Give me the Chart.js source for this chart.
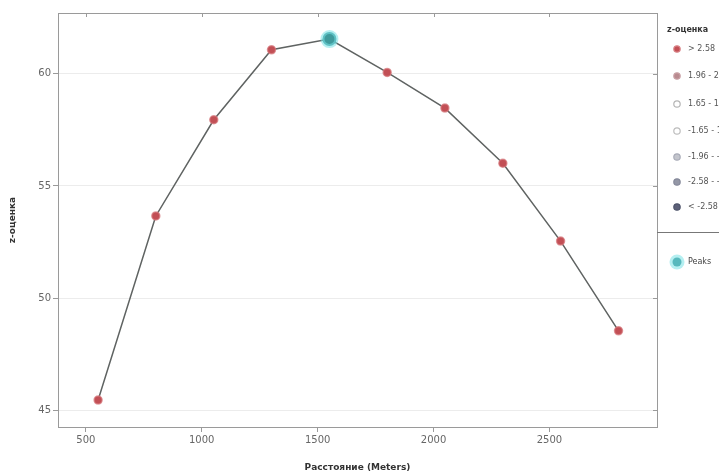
<!DOCTYPE html>
<html>
<head>
<meta charset="utf-8">
<script src="https://cdn.jsdelivr.net/npm/chart.js@4.4.1/dist/chart.umd.min.js"></script>
<style>
  html, body { margin: 0; padding: 0; background: #fff; overflow: hidden; }
  #wrap { width: 719px; height: 473px; position: relative; }
</style>
</head>
<body>
<div id="wrap"><canvas id="zChart"></canvas></div>
<script>
// values
const distances = [553, 802, 1052, 1301, 1551, 1800, 2049, 2299, 2548, 2798];
const zScores = [45.45, 53.66, 57.95, 61.07, 61.55, 60.06, 58.47, 56.01, 52.54, 48.54];
const peakDistances = [1551];
const peakScores = [61.55];
const xTicks = [500, 1000, 1500, 2000, 2500];
const yTicks = [45, 50, 55, 60];
const legendTitle = "z-оценка";
const legendLabels = ["> 2.58", "1.96 - 2.58", "1.65 - 1.96", "-1.65 - 1.65", "-1.96 - -1.65", "-2.58 - -1.96", "< -2.58"];
const legendFills = ["#c44f55", "#b98a8f", "#ffffff", "#ffffff", "#c3c5cc", "#9497a6", "#5d6178"];
const legendStrokes = ["#d98589", "#c9a2a6", "#b5b5b5", "#bdbdbd", "#a9acb8", "#868a9b", "#4f546b"];
const peakLabel = "Peaks";

const theme = {
  line: "#5f6362",
  point: "#c24f55",
  pointEdge: "rgba(214, 120, 124, 0.7)",
  peak: "#3f9a9c",
  halo: "rgba(120, 225, 230, 0.55)",
  axis: "#9a9a9a",
  grid: "#ececec",
  text: "#666",
  title: "#333",
};

const framePlugin = {
  id: "frame",
  afterDraw(chart) {
    const { ctx, chartArea: a, scales } = chart;
    ctx.save();
    ctx.strokeStyle = theme.axis;
    ctx.lineWidth = 1;
    ctx.strokeRect(a.left + 0.5, a.top + 0.5, a.right - a.left, a.bottom - a.top);
    // mirrored tick marks on top and right edges
    ctx.beginPath();
    xTicks.forEach((v) => {
      const x = Math.round(scales.x.getPixelForValue(v)) + 0.5;
      ctx.moveTo(x, a.top);
      ctx.lineTo(x, a.top + 4);
    });
    yTicks.forEach((v) => {
      const y = Math.round(scales.y.getPixelForValue(v)) + 0.5;
      ctx.moveTo(a.right, y);
      ctx.lineTo(a.right - 4, y);
    });
    ctx.stroke();

    // legend on the right, partly cut by the canvas edge
    const mx = 677, tx = 688;
    ctx.font = "bold 8px 'DejaVu Sans'";
    ctx.fillStyle = theme.title;
    ctx.textBaseline = "middle";
    ctx.fillText(legendTitle, 667, 30);
    ctx.font = "8px 'DejaVu Sans'";
    const rows = [49, 76, 104, 131, 157, 182, 207];
    legendLabels.forEach((lab, i) => {
      ctx.beginPath();
      ctx.arc(mx, rows[i], 3.2, 0, Math.PI * 2);
      ctx.fillStyle = legendFills[i];
      ctx.fill();
      ctx.strokeStyle = legendStrokes[i];
      ctx.lineWidth = 1.2;
      ctx.stroke();
      ctx.fillStyle = "#555";
      ctx.fillText(lab, tx, rows[i]);
    });
    ctx.strokeStyle = "#777";
    ctx.lineWidth = 1;
    ctx.beginPath();
    ctx.moveTo(a.right, 232.5);
    ctx.lineTo(719, 232.5);
    ctx.stroke();
    ctx.beginPath();
    ctx.arc(mx, 262, 7.5, 0, Math.PI * 2);
    ctx.fillStyle = theme.halo;
    ctx.fill();
    ctx.beginPath();
    ctx.arc(mx, 262, 4.5, 0, Math.PI * 2);
    ctx.fillStyle = "#57b9bd";
    ctx.fill();
    ctx.fillStyle = "#444";
    ctx.fillText(peakLabel, tx, 262);
    ctx.restore();
  },
};

new Chart(document.getElementById("zChart"), {
  type: "scatter",
  data: {
    datasets: [
      {
        label: "peaks",
        data: peakDistances.map((d, i) => ({ x: d, y: peakScores[i] })),
        backgroundColor: theme.peak,
        borderColor: theme.halo,
        borderWidth: 4,
        pointRadius: 7,
        order: 0,
      },
      {
        label: "z",
        data: distances.map((d, i) => ({ x: d, y: zScores[i] })),
        showLine: true,
        borderColor: theme.line,
        borderWidth: 1.5,
        pointBackgroundColor: theme.point,
        pointBorderColor: theme.pointEdge,
        pointBorderWidth: 1.5,
        pointRadius: 4,
        order: 1,
      },
    ],
  },
  options: {
    responsive: true,
    maintainAspectRatio: false,
    animation: false,
    layout: { padding: { left: 0, right: 62, top: 13, bottom: 0 } },
    plugins: { legend: { display: false }, tooltip: { enabled: false } },
    scales: {
      x: {
        type: "linear",
        min: 380,
        max: 2964,
        afterBuildTicks: (s) => { s.ticks = xTicks.map((v) => ({ value: v })); },
        afterFit: (s) => { s.height = 46; },
        grid: { drawOnChartArea: false, color: theme.axis, tickLength: 5 },
        border: { color: theme.axis },
        ticks: {
          color: theme.text,
          font: { size: 10, family: "'DejaVu Sans'" },
          padding: 2,
          callback: (v) => String(v),
        },
        title: {
          display: true,
          text: "Расстояние (Meters)",
          color: theme.title,
          font: { size: 9, weight: "bold", family: "'DejaVu Sans'" },
          padding: { top: 12, bottom: 0 },
        },
      },
      y: {
        min: 44.25,
        max: 62.71,
        afterBuildTicks: (s) => { s.ticks = yTicks.map((v) => ({ value: v })); },
        afterFit: (s) => { s.width = 58; },
        grid: { color: theme.grid, tickColor: theme.axis, tickLength: 5 },
        border: { color: theme.axis },
        ticks: { color: theme.text, font: { size: 10, family: "'DejaVu Sans'" }, padding: 2 },
        title: {
          display: true,
          text: "z-оценка",
          color: theme.title,
          font: { size: 9, weight: "bold", family: "'DejaVu Sans'" },
          padding: { top: 7, bottom: 0 },
        },
      },
    },
  },
  plugins: [framePlugin],
});
</script>
</body>
</html>
